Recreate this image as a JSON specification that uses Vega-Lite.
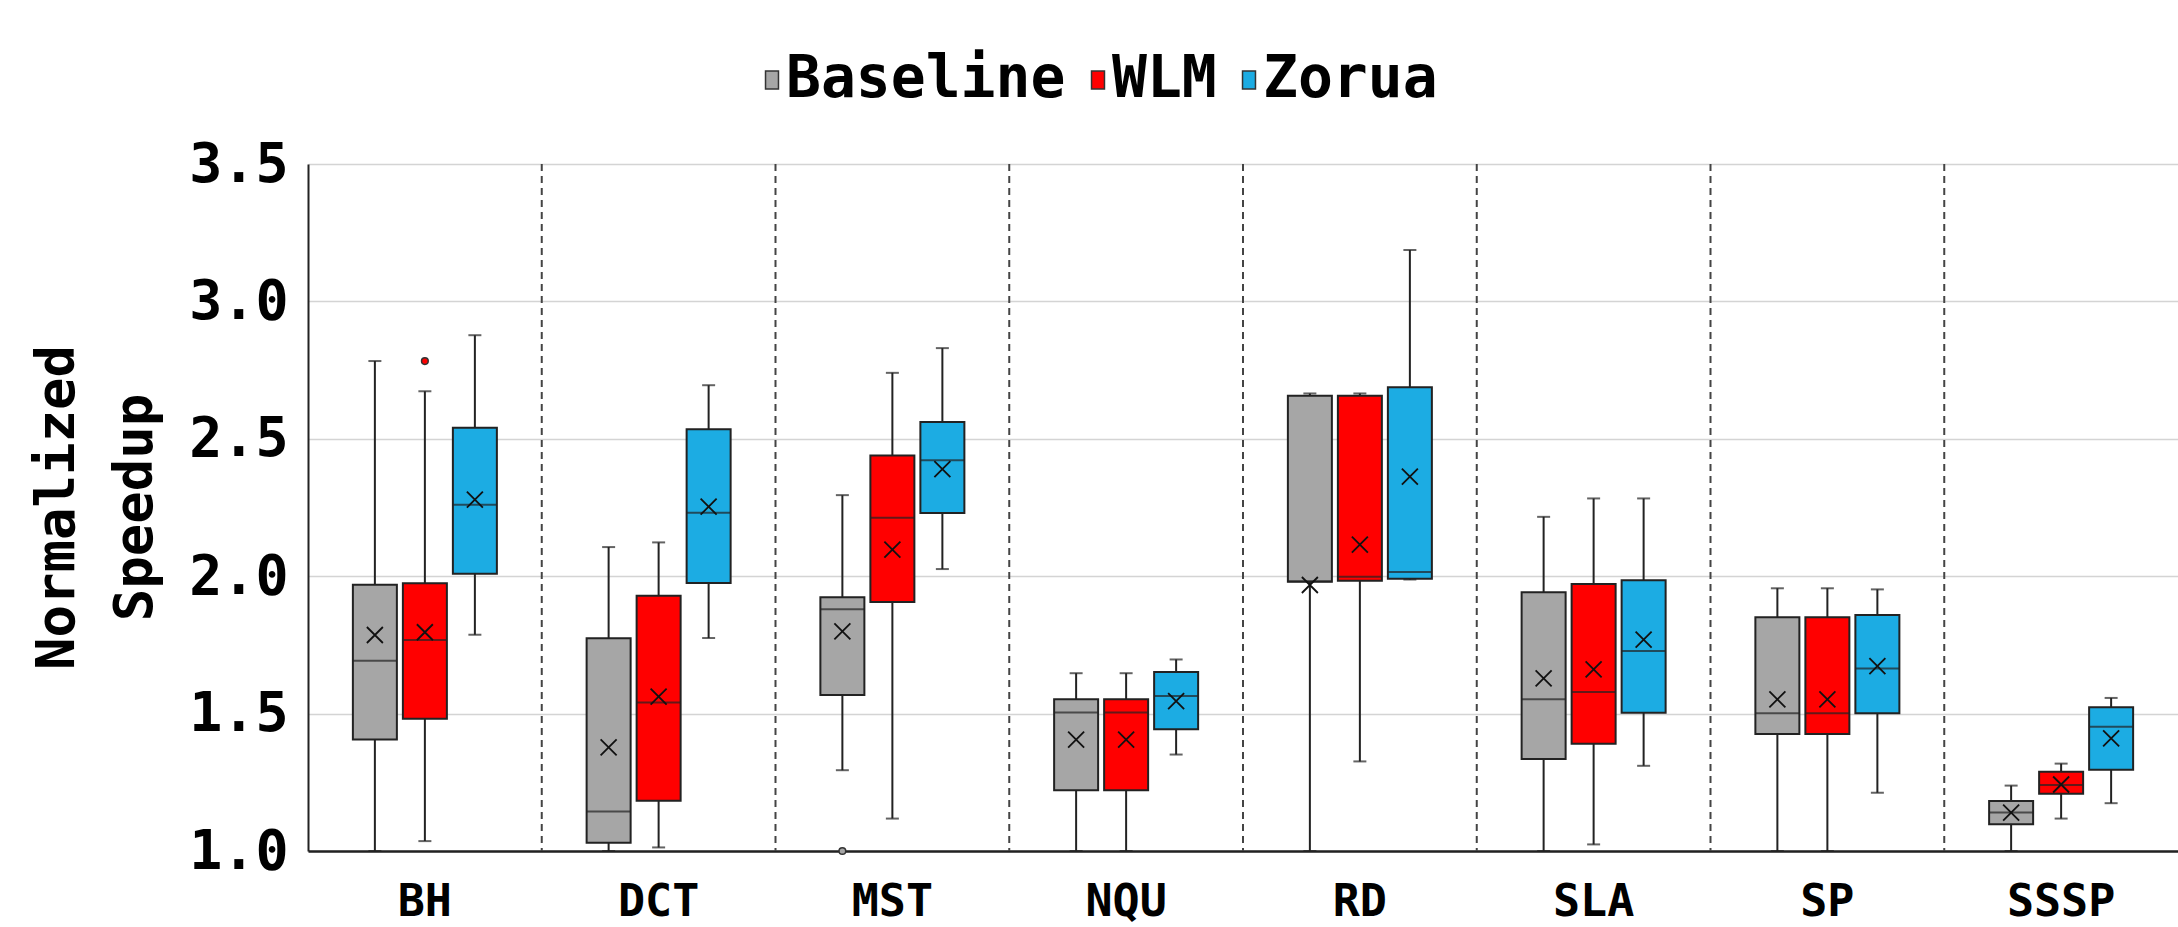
{
  "$schema": "https://vega.github.io/schema/vega-lite/v6.json",
  "width": 1870,
  "height": 687,
  "autosize": {"type": "none"},
  "padding": {"left": 308, "top": 164, "right": 0, "bottom": 76},
  "background": "white",
  "config": {
    "view": {"stroke": null},
    "font": "DejaVu Sans Mono",
    "axisY": {
      "grid": true,
      "gridColor": "#d4d4d4",
      "gridWidth": 1.5,
      "ticks": false,
      "tickSize": 0,
      "domainColor": "#222222",
      "domainWidth": 2,
      "labelFont": "DejaVu Sans Mono",
      "labelFontSize": 55,
      "labelFontWeight": "bold",
      "labelColor": "#000000",
      "labelPadding": 20,
      "labelFlush": false,
      "labelOverlap": false,
      "titleFont": "DejaVu Sans Mono",
      "titleFontSize": 54,
      "titleFontWeight": "bold",
      "titleColor": "#000000",
      "titleLineHeight": 78,
      "titleAngle": -90,
      "titleAlign": "center",
      "titleBaseline": "alphabetic",
      "titleX": -235,
      "titleY": 343
    },
    "axisX": {
      "grid": false,
      "ticks": false,
      "tickSize": 0,
      "domainColor": "#222222",
      "domainWidth": 2.5,
      "labelFont": "DejaVu Sans Mono",
      "labelFontSize": 45,
      "labelFontWeight": "bold",
      "labelColor": "#000000",
      "labelPadding": 28,
      "labelAngle": 0
    }
  },
  "datasets": {
    "boxes": [
      {"bench": "BH", "series": "Baseline", "lo": 1.0, "q1": 1.406, "med": 1.692, "q3": 1.969, "hi": 2.783, "mean": 1.786},
      {"bench": "BH", "series": "WLM", "lo": 1.036, "q1": 1.481, "med": 1.768, "q3": 1.974, "hi": 2.673, "mean": 1.796},
      {"bench": "BH", "series": "Zorua", "lo": 1.787, "q1": 2.009, "med": 2.26, "q3": 2.54, "hi": 2.877, "mean": 2.279},
      {"bench": "DCT", "series": "Baseline", "lo": 1.0, "q1": 1.03, "med": 1.144, "q3": 1.774, "hi": 2.106, "mean": 1.377},
      {"bench": "DCT", "series": "WLM", "lo": 1.013, "q1": 1.183, "med": 1.54, "q3": 1.929, "hi": 2.123, "mean": 1.562},
      {"bench": "DCT", "series": "Zorua", "lo": 1.775, "q1": 1.975, "med": 2.231, "q3": 2.535, "hi": 2.695, "mean": 2.253},
      {"bench": "MST", "series": "Baseline", "lo": 1.294, "q1": 1.568, "med": 1.88, "q3": 1.923, "hi": 2.295, "mean": 1.799},
      {"bench": "MST", "series": "WLM", "lo": 1.118, "q1": 1.906, "med": 2.213, "q3": 2.439, "hi": 2.74, "mean": 2.097},
      {"bench": "MST", "series": "Zorua", "lo": 2.026, "q1": 2.23, "med": 2.422, "q3": 2.561, "hi": 2.83, "mean": 2.39},
      {"bench": "NQU", "series": "Baseline", "lo": 1.0, "q1": 1.221, "med": 1.504, "q3": 1.552, "hi": 1.647, "mean": 1.405},
      {"bench": "NQU", "series": "WLM", "lo": 1.0, "q1": 1.221, "med": 1.504, "q3": 1.552, "hi": 1.647, "mean": 1.405},
      {"bench": "NQU", "series": "Zorua", "lo": 1.351, "q1": 1.443, "med": 1.564, "q3": 1.651, "hi": 1.697, "mean": 1.545},
      {"bench": "RD", "series": "Baseline", "lo": 1.0, "q1": 1.98, "med": 1.982, "q3": 2.657, "hi": 2.665, "mean": 1.968},
      {"bench": "RD", "series": "WLM", "lo": 1.326, "q1": 1.983, "med": 1.998, "q3": 2.657, "hi": 2.665, "mean": 2.115},
      {"bench": "RD", "series": "Zorua", "lo": 1.988, "q1": 1.991, "med": 2.015, "q3": 2.688, "hi": 3.187, "mean": 2.362},
      {"bench": "SLA", "series": "Baseline", "lo": 1.0, "q1": 1.335, "med": 1.552, "q3": 1.942, "hi": 2.216, "mean": 1.628},
      {"bench": "SLA", "series": "WLM", "lo": 1.024, "q1": 1.39, "med": 1.579, "q3": 1.972, "hi": 2.283, "mean": 1.661},
      {"bench": "SLA", "series": "Zorua", "lo": 1.31, "q1": 1.503, "med": 1.728, "q3": 1.985, "hi": 2.283, "mean": 1.769},
      {"bench": "SP", "series": "Baseline", "lo": 1.0, "q1": 1.426, "med": 1.501, "q3": 1.851, "hi": 1.956, "mean": 1.552},
      {"bench": "SP", "series": "WLM", "lo": 1.0, "q1": 1.426, "med": 1.501, "q3": 1.851, "hi": 1.956, "mean": 1.552},
      {"bench": "SP", "series": "Zorua", "lo": 1.212, "q1": 1.501, "med": 1.664, "q3": 1.859, "hi": 1.952, "mean": 1.673},
      {"bench": "SSSP", "series": "Baseline", "lo": 1.0, "q1": 1.097, "med": 1.14, "q3": 1.182, "hi": 1.238, "mean": 1.14},
      {"bench": "SSSP", "series": "WLM", "lo": 1.118, "q1": 1.208, "med": 1.24, "q3": 1.288, "hi": 1.318, "mean": 1.242},
      {"bench": "SSSP", "series": "Zorua", "lo": 1.174, "q1": 1.296, "med": 1.452, "q3": 1.523, "hi": 1.557, "mean": 1.41}
    ],
    "outliers": [
      {"bench": "BH", "series": "WLM", "value": 2.783},
      {"bench": "MST", "series": "Baseline", "value": 1.0}
    ],
    "seps": [
      {"bench": "DCT"}, {"bench": "MST"}, {"bench": "NQU"}, {"bench": "RD"},
      {"bench": "SLA"}, {"bench": "SP"}, {"bench": "SSSP"}
    ]
  },
  "data": {"name": "boxes"},
  "encoding": {
    "x": {
      "field": "bench",
      "type": "nominal",
      "title": null,
      "sort": ["BH", "DCT", "MST", "NQU", "RD", "SLA", "SP", "SSSP"],
      "scale": {"domain": ["BH", "DCT", "MST", "NQU", "RD", "SLA", "SP", "SSSP"], "paddingInner": 0, "paddingOuter": 0}
    }
  },
  "layer": [
    {
      "data": {"name": "seps"},
      "mark": {"type": "rule", "stroke": "#444444", "strokeWidth": 2, "strokeDash": [7, 5]},
      "encoding": {
        "x": {
          "field": "bench",
          "type": "nominal",
          "title": null,
          "bandPosition": 0,
          "sort": ["BH", "DCT", "MST", "NQU", "RD", "SLA", "SP", "SSSP"],
          "scale": {"domain": ["BH", "DCT", "MST", "NQU", "RD", "SLA", "SP", "SSSP"], "paddingInner": 0, "paddingOuter": 0}
        }
      }
    },
    {
      "mark": {"type": "rule", "stroke": "#222222", "strokeWidth": 2},
      "encoding": {
        "xOffset": {"field": "series", "type": "nominal", "scale": {"domain": ["Baseline", "WLM", "Zorua"], "paddingInner": 0.12, "paddingOuter": 0.8975}},
        "y": {"field": "lo", "type": "quantitative", "title": ["Normalized", "Speedup"], "scale": {"domain": [1, 3.5], "nice": false, "zero": false}, "axis": {"values": [1, 1.5, 2, 2.5, 3, 3.5], "format": ".1f"}},
        "y2": {"field": "hi"}
      }
    },
    {
      "mark": {"type": "tick", "color": "#222222", "size": 13, "thickness": 2, "orient": "horizontal"},
      "encoding": {
        "xOffset": {"field": "series", "type": "nominal", "scale": {"domain": ["Baseline", "WLM", "Zorua"], "paddingInner": 0.12, "paddingOuter": 0.8975}},
        "y": {"field": "lo", "type": "quantitative", "title": ["Normalized", "Speedup"], "scale": {"domain": [1, 3.5], "nice": false, "zero": false}, "axis": {"values": [1, 1.5, 2, 2.5, 3, 3.5], "format": ".1f"}}
      }
    },
    {
      "mark": {"type": "tick", "color": "#222222", "size": 13, "thickness": 2, "orient": "horizontal"},
      "encoding": {
        "xOffset": {"field": "series", "type": "nominal", "scale": {"domain": ["Baseline", "WLM", "Zorua"], "paddingInner": 0.12, "paddingOuter": 0.8975}},
        "y": {"field": "hi", "type": "quantitative", "title": ["Normalized", "Speedup"], "scale": {"domain": [1, 3.5], "nice": false, "zero": false}, "axis": {"values": [1, 1.5, 2, 2.5, 3, 3.5], "format": ".1f"}}
      }
    },
    {
      "mark": {"type": "bar", "stroke": "#222222", "strokeWidth": 2, "opacity": 1},
      "encoding": {
        "xOffset": {"field": "series", "type": "nominal", "scale": {"domain": ["Baseline", "WLM", "Zorua"], "paddingInner": 0.12, "paddingOuter": 0.8975}},
        "y": {"field": "q1", "type": "quantitative", "title": ["Normalized", "Speedup"], "scale": {"domain": [1, 3.5], "nice": false, "zero": false}, "axis": {"values": [1, 1.5, 2, 2.5, 3, 3.5], "format": ".1f"}},
        "y2": {"field": "q3"},
        "color": {
          "field": "series",
          "type": "nominal",
          "scale": {"domain": ["Baseline", "WLM", "Zorua"], "range": ["#a6a6a6", "#ff0000", "#1cace3"]},
          "legend": {
            "orient": "none",
            "legendX": 435,
            "legendY": -113,
            "direction": "horizontal",
            "title": null,
            "padding": 0,
            "symbolType": "M-0.72,-1H0.72V1H-0.72Z",
            "symbolSize": 324,
            "symbolStrokeColor": "#333333",
            "symbolStrokeWidth": 1.5,
            "labelFont": "DejaVu Sans Mono",
            "labelFontSize": 58,
            "labelFontWeight": "bold",
            "labelColor": "#000000",
            "labelLimit": 0,
            "labelOffset": -15,
            "columnPadding": 3
          }
        }
      }
    },
    {
      "mark": {"type": "tick", "color": "#222222", "size": 44, "thickness": 2, "orient": "horizontal"},
      "encoding": {
        "xOffset": {"field": "series", "type": "nominal", "scale": {"domain": ["Baseline", "WLM", "Zorua"], "paddingInner": 0.12, "paddingOuter": 0.8975}},
        "y": {"field": "med", "type": "quantitative", "title": ["Normalized", "Speedup"], "scale": {"domain": [1, 3.5], "nice": false, "zero": false}, "axis": {"values": [1, 1.5, 2, 2.5, 3, 3.5], "format": ".1f"}}
      }
    },
    {
      "mark": {"type": "point", "shape": "M-1,-1L1,1M-1,1L1,-1", "filled": false, "stroke": "#111111", "strokeWidth": 1.8, "size": 256, "opacity": 1},
      "encoding": {
        "xOffset": {"field": "series", "type": "nominal", "scale": {"domain": ["Baseline", "WLM", "Zorua"], "paddingInner": 0.12, "paddingOuter": 0.8975}},
        "y": {"field": "mean", "type": "quantitative", "title": ["Normalized", "Speedup"], "scale": {"domain": [1, 3.5], "nice": false, "zero": false}, "axis": {"values": [1, 1.5, 2, 2.5, 3, 3.5], "format": ".1f"}}
      }
    },
    {
      "data": {"name": "outliers"},
      "mark": {"type": "point", "shape": "circle", "filled": true, "stroke": "#333333", "strokeWidth": 1.5, "size": 45, "opacity": 1},
      "encoding": {
        "xOffset": {"field": "series", "type": "nominal", "scale": {"domain": ["Baseline", "WLM", "Zorua"], "paddingInner": 0.12, "paddingOuter": 0.8975}},
        "y": {"field": "value", "type": "quantitative", "title": ["Normalized", "Speedup"], "scale": {"domain": [1, 3.5], "nice": false, "zero": false}, "axis": {"values": [1, 1.5, 2, 2.5, 3, 3.5], "format": ".1f"}},
        "fill": {"field": "series", "type": "nominal", "scale": {"domain": ["Baseline", "WLM", "Zorua"], "range": ["#a6a6a6", "#ff0000", "#1cace3"]}, "legend": null}
      }
    }
  ]
}
